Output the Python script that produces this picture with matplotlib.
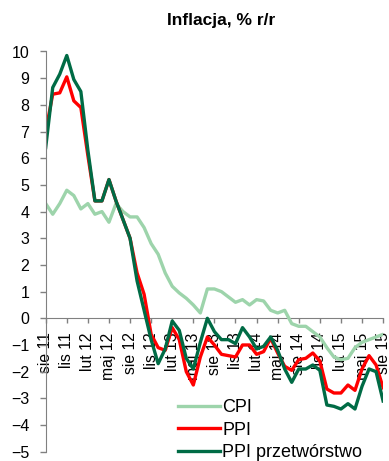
import matplotlib
matplotlib.use('Agg')
import matplotlib.pyplot as plt

plt.rcParams['font.family'] = ['Liberation Sans', 'DejaVu Sans']

tick_labels = ['sie 11', 'lis 11', 'lut 12', 'maj 12', 'sie 12', 'lis 12', 'lut 13',
               'maj 13', 'sie 13', 'lis 13', 'lut 14', 'maj 14', 'sie 14', 'lis 14',
               'lut 15', 'maj 15', 'sie 15']

cpi = [4.3, 3.9, 4.3, 4.8, 4.6,
       4.1, 4.3, 3.9, 4.0, 3.6, 4.3, 4.0, 3.8, 3.8, 3.4, 2.8, 2.4,
       1.7, 1.2, 0.95, 0.75, 0.5, 0.2, 1.1, 1.1, 1.0, 0.8, 0.6, 0.7,
       0.5, 0.7, 0.65, 0.3, 0.2, 0.3, -0.2, -0.3, -0.3, -0.5, -0.7, -1.1,
       -1.45, -1.55, -1.5, -1.1, -0.9, -0.8, -0.7, -0.6]

ppi = [7.0, 8.4, 8.45, 9.05, 8.15, 7.9, 6.1, 4.4, 4.4, 5.2, 4.4, 3.7, 3.0,
       1.7, 0.9, -0.6, -1.1, -1.2, -0.35, -0.8, -2.0, -2.5, -1.45, -0.7, -1.0,
       -1.35, -1.4, -1.45, -1.0, -1.0, -1.35, -1.25, -0.75, -1.3, -1.8, -1.95, -1.55,
       -1.5, -1.3, -1.6, -2.65, -2.8, -2.8, -2.5, -2.7, -1.9, -1.4, -1.75, -2.6]

ppi_manuf = [6.4, 8.65, 9.15, 9.85, 8.95, 8.5, 6.3, 4.4, 4.4, 5.2, 4.4, 3.7, 3.0,
             1.4, 0.3, -0.8, -1.7, -1.15, -0.1, -0.45, -1.5, -1.9, -0.9, 0.0, -0.5,
             -0.8, -0.8, -0.95, -0.35, -0.7, -1.15, -1.05, -0.7, -1.2, -1.9, -2.4, -1.9,
             -1.9, -1.75, -1.95, -3.25, -3.3, -3.4, -3.2, -3.4, -2.55, -1.9, -2.0, -3.1]

series_names = ['CPI', 'PPI', 'PPI przetwórstwo']

W, H = 389, 461
fig = plt.figure(figsize=(W / 100, H / 100), dpi=100)
left, right, top, bottom = 45.7, 383.1, 51.5, 451.7
ax = fig.add_axes([left / W, 1 - bottom / H, (right - left) / W, (bottom - top) / H])

for s in ['top', 'right']:
    ax.spines[s].set_visible(False)
ax.spines['bottom'].set_position(('data', 0))
ax.spines['bottom'].set_color('#808080')
ax.spines['left'].set_color('#808080')
ax.spines['bottom'].set_zorder(0.5)

x = list(range(len(cpi)))
lw = 2.4
ax.plot(x, cpi, color='#9DD4AB', lw=lw, label=series_names[0])
ax.plot(x, ppi, color='#FF0000', lw=lw, label=series_names[1])
ax.plot(x, ppi_manuf, color='#006B45', lw=lw, label=series_names[2])

ax.set_xlim(0, len(cpi) - 1)
ax.set_ylim(-5, 10)
ax.set_yticks(range(-5, 11))
ax.set_xticks(range(0, len(cpi), 3))
ax.set_xticklabels(tick_labels)

ax.tick_params(axis='x', direction='out', length=3.6, width=1, color='#808080',
               pad=6.6, labelsize=11.3, labelrotation=90)
ax.tick_params(axis='y', direction='out', length=4, width=1, color='#808080',
               pad=7.7, labelsize=11.5)

fig.text(221.5 / W, 1 - 20 / H, 'Inflacja, % r/r', ha='center', va='center',
         fontsize=12.5, fontweight='bold')

ax.legend(loc='lower left', bbox_to_anchor=(178 / W, 0.0), bbox_transform=fig.transFigure,
          frameon=False, borderpad=0, borderaxespad=0, handlelength=2.3,
          handletextpad=0.15, labelspacing=0.3, fontsize=13)

fig.savefig('out.png', dpi=100)
